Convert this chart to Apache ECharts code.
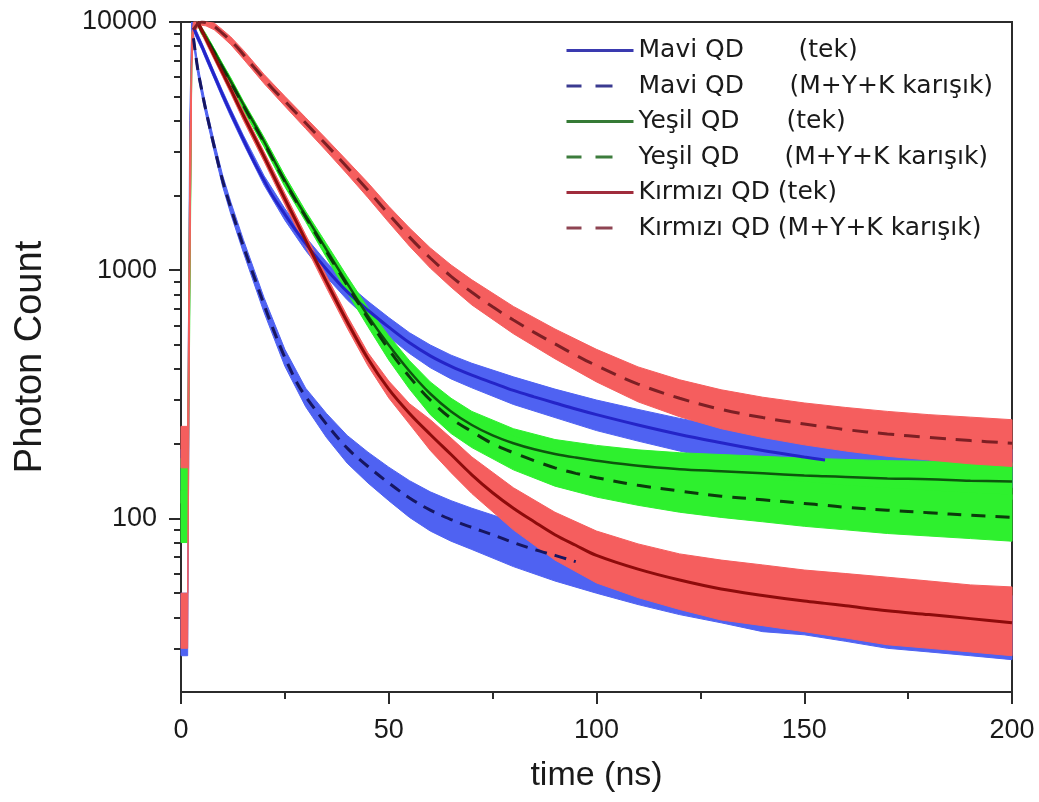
<!DOCTYPE html>
<html>
<head>
<meta charset="utf-8">
<script src="https://cdn.jsdelivr.net/npm/echarts@6/dist/echarts.min.js"></script>
<style>html,body{margin:0;padding:0;background:#fff}#c{width:1039px;height:802px}</style>
</head>
<body>
<div id="c"></div>
<script>
// ---------- axis ticks ----------
const xTickInterval = 50;
const yMajorTicks = [100, 1000, 10000];
const yMinorTicks = [30,40,50,60,70,80,90,200,300,400,500,600,700,800,900,2000,3000,4000,5000,6000,7000,8000,9000];

// ---------- series names ----------
const seriesNames = [
  'Mavi QD (tek)', 'Mavi QD (M+Y+K karışık)',
  'Yeşil QD (tek)', 'Yeşil QD (M+Y+K karışık)',
  'Kırmızı QD (tek)', 'Kırmızı QD (M+Y+K karışık)'
];

// ---------- fitted curves (time in ns) ----------
const tFit = [3,4,5,6,8,10,12,14,16,18,20,22,25,28,30,35,40,45,50,55,60,65,70,75,80,85,90,95,100,110,120,130,140,150,155,160,170,180,190,200];
const fitMaviTek = [9500,8700,8000,7300,6100,5100,4300,3650,3100,2650,2300,2000,1680,1420,1280,1010,820,690,590,510,452,410,378,352,328,309,292,276,262,238,218,202,188,177,172,null,null,null,null,null];
const fitMaviKarisik = [8600,6500,5300,4400,3150,2300,1780,1400,1120,900,725,590,445,350,310,240,192,162,139,121,108,99,92,86,80,75,71,67,null,null,null,null,null,null,null,null,null,null,null,null];
const fitYesilTek = [null,10000,9300,8700,7600,6600,5750,5000,4350,3800,3300,2850,2300,1880,1660,1210,885,655,500,392,318,270,238,216,201,190,182,176,171,163,158,155,152,149,148,147,145,144,142,141];
const fitYesilKarisik = [null,10000,9200,8650,7550,6550,5700,4950,4300,3750,3270,2820,2280,1860,1640,1190,870,640,480,372,300,253,224,200,184,171,160,152,146,136,129,123,119,115,113,111,108,105.5,103,101];
const fitKirmiziTek = [null,10000,9250,8550,7300,6250,5350,4550,3900,3350,2870,2450,1940,1540,1320,900,620,440,332,265,218,181,150,127,110,97,86,78,71,62.5,56.5,52,49,46.5,45.5,44.5,42.5,41,39.5,38];
const fitKirmiziKarisik = [9300,9800,10000,9950,9600,9000,8400,7750,7050,6450,5900,5400,4800,4250,3920,3200,2600,2100,1680,1360,1120,945,815,712,630,562,505,455,413,348,305,275,255,240,234,228,219,212,206,201];

// ---------- raw (noisy) data envelopes ----------
const tBand = [0,1.6,2.1,2.6,3,4,5,6,8,10,12,15,20,25,30,35,40,45,50,55,60,65,70,80,90,100,110,120,130,140,150,160,170,180,190,200];
const rawMaviTekHi = [190,190,4000,10000,9800,9000,8250,7550,6300,5280,4460,3500,2400,1770,1360,1080,885,750,645,560,500,455,422,372,332,300,275,253,236,222,210,202,197,194,192,190];
const rawMaviTekLo = [130,130,1200,8800,9200,8400,7750,7050,5900,4920,4140,3240,2200,1590,1200,940,760,635,540,462,405,365,336,288,255,226,205,187,172,160,150,143,140,137,135,133];
const rawMaviKarHi = [50,50,3000,10000,9000,6800,5550,4600,3300,2420,1880,1330,775,480,335,265,216,185,161,142,128,118,110,97,87,79,72,67,63,60,57,55,53,52,50,49];
const rawMaviKarLo = [28,28,900,8500,8200,6200,5050,4200,3000,2180,1680,1180,675,410,282,212,167,139,118,101,89,81,75,64,56,50,45,41,38,35,34,32,30,29,28,27];
const rawYesilTekHi = [175,175,2500,9000,9700,10000,9500,8950,7800,6800,5950,4800,3430,2400,1730,1280,945,705,545,432,355,305,270,230,208,197,189,184,181,178,175,173,171,170,169,168];
const rawYesilTekLo = [115,115,800,7000,9000,9700,8900,8450,7300,6400,5550,4450,3170,2200,1590,1140,830,610,458,355,285,238,208,174,156,146,139,134,131,128,126,124,122,121,120,119];
const rawYesilKarHi = [130,130,2000,8800,9600,10000,9450,8900,7800,6750,5900,4750,3400,2390,1710,1255,925,690,525,415,340,290,258,215,189,174,163,156,150,145,141,136,133,130,127,125];
const rawYesilKarLo = [80,80,600,6800,8900,9700,8900,8400,7300,6350,5500,4430,3140,2170,1570,1125,815,592,435,332,262,220,193,157,135,122,113,106,101,97,93,90,87,85,83,81];
const rawKirmiziTekHi = [50,50,3000,9000,10000,10000,9550,8850,7550,6480,5560,4380,3000,2040,1390,950,655,465,358,290,250,211,177,133,106,89,79,72,68,65,62,60,58,56,54,53];
const rawKirmiziTekLo = [30,30,900,7000,9500,9700,8950,8250,7050,6020,5140,4020,2740,1840,1250,850,585,412,306,240,188,153,126,90,68,55,48,43,39,37,35,33,31,30,29,28];
const rawKirmiziKarHi = [235,235,2500,8500,9600,10000,10000,10000,9900,9300,8700,7700,6150,5020,4120,3380,2760,2250,1810,1480,1230,1050,915,715,580,480,408,362,330,308,292,280,270,262,256,250];
const rawKirmiziKarLo = [160,160,900,6500,9000,9500,9700,9650,9300,8700,8100,7100,5650,4580,3720,3020,2440,1960,1560,1250,1020,855,725,555,440,355,295,257,230,212,198,187,178,172,166,162];

// ---------- styling ----------
const RAW_BLUE = '#4f62f2', RAW_GREEN = '#2ef02e', RAW_RED = '#f55e5e';

function bandSeries(id, hi, lo, color) {
  const data = tBand.map((t, i) => [t, lo[i], hi[i]]);
  return {
    type: 'custom', id: id, name: id, data: data, silent: true, z: 1,
    encode: { x: 0, y: [1, 2] },
    renderItem: function (params, api) {
      if (params.dataIndex !== 0) return null;
      const pts = [];
      for (let i = 0; i < data.length; i++) pts.push(api.coord([data[i][0], data[i][2]]));
      for (let i = data.length - 1; i >= 0; i--) pts.push(api.coord([data[i][0], data[i][1]]));
      return { type: 'polygon', shape: { points: pts }, style: { fill: color, stroke: color, lineWidth: 1 } };
    }
  };
}

function fitSeries(name, vals, color, width, dash) {
  const data = [];
  tFit.forEach((t, i) => { if (vals[i] !== null) data.push([t, vals[i]]); });
  return {
    type: 'line', name: name, data: data, z: 5,
    showSymbol: false, symbol: 'none', smooth: 0.35,
    lineStyle: { color: color, width: width, type: dash || 'solid' },
    itemStyle: { color: color },
    emphasis: { disabled: true }
  };
}

const legendLabels = {
  'Mavi QD (tek)': '{a|Mavi QD}(tek)',
  'Mavi QD (M+Y+K karışık)': '{b|Mavi QD}(M+Y+K karışık)',
  'Yeşil QD (tek)': '{c|Yeşil QD}(tek)',
  'Yeşil QD (M+Y+K karışık)': '{d|Yeşil QD}(M+Y+K karışık)',
  'Kırmızı QD (tek)': 'Kırmızı QD (tek)',
  'Kırmızı QD (M+Y+K karışık)': 'Kırmızı QD (M+Y+K karışık)'
};
const legendDash = [15, 14, 17, 40];
const legendColors = ['#3a3ab0', '#3a3a90', '#357a35', '#3c7c3c', '#a02c3c', '#8e4452'];

const chart = echarts.init(document.getElementById('c'), null, { renderer: 'canvas' });
const axisColor = '#2b2b2b';
const legendFont = { fontFamily: 'DejaVu Sans', fontSize: 25, color: '#1a1a1a' };

chart.setOption({
  animation: false,
  backgroundColor: '#ffffff',
  textStyle: { fontFamily: 'Liberation Sans' },
  grid: { left: 181, right: 27, top: 22, bottom: 110, show: true, borderColor: axisColor, borderWidth: 2, containLabel: false, outerBoundsMode: 'none' },
  legend: {
    data: seriesNames.map((n, i) => ({
      name: n,
      lineStyle: { color: legendColors[i], width: 3, type: (i % 2 === 1) ? legendDash : 'solid' },
      itemStyle: { color: legendColors[i], opacity: 0, borderWidth: 0 }
    })),
    orient: 'vertical', left: 565, top: 38, padding: 0,
    itemGap: 10.5, itemWidth: 67, itemHeight: 14,
    selectedMode: false,
    formatter: n => legendLabels[n],
    textStyle: Object.assign({}, legendFont, {
      rich: {
        a: Object.assign({ width: 160 }, legendFont),
        b: Object.assign({ width: 151 }, legendFont),
        c: Object.assign({ width: 148 }, legendFont),
        d: Object.assign({ width: 146 }, legendFont)
      }
    })
  },
  xAxis: {
    type: 'value', min: 0, max: 200, interval: xTickInterval,
    name: 'time (ns)', nameLocation: 'middle', nameGap: 67, nameMoveOverlap: false,
    nameTextStyle: { fontSize: 34, color: '#1a1a1a', fontFamily: 'Liberation Sans' },
    axisLine: { show: true, onZero: false, lineStyle: { color: axisColor, width: 2 } },
    axisTick: { show: true, inside: false, length: 12, lineStyle: { color: axisColor, width: 2 } },
    minorTick: { show: true, splitNumber: 2, length: 7, lineStyle: { color: axisColor, width: 2 } },
    axisLabel: { fontSize: 27, color: '#1a1a1a', margin: 25, fontFamily: 'Liberation Sans' },
    splitLine: { show: false }, minorSplitLine: { show: false }
  },
  yAxis: [{
    type: 'log', logBase: 10, min: 20, max: 10000, position: 'left', offset: 0,
    name: 'Photon Count', nameLocation: 'middle', nameGap: 131, nameMoveOverlap: false,
    nameTextStyle: { fontSize: 38, color: '#1a1a1a', fontFamily: 'Liberation Sans' },
    axisLine: { show: true, onZero: false, lineStyle: { color: axisColor, width: 2 } },
    axisTick: { show: true, inside: false, length: 12, customValues: yMajorTicks, lineStyle: { color: axisColor, width: 2 } },
    axisLabel: { fontSize: 27, color: '#1a1a1a', margin: 24, customValues: yMajorTicks, fontFamily: 'Liberation Sans', formatter: v => String(Math.round(v)) },
    splitLine: { show: false }
  }, {
    type: 'log', logBase: 10, min: 20, max: 10000, position: 'left', offset: 0, show: true,
    axisLine: { show: true, onZero: false, lineStyle: { color: axisColor, width: 2 } },
    axisTick: { show: true, inside: false, length: 7, customValues: yMinorTicks, lineStyle: { color: axisColor, width: 2 } },
    axisLabel: { show: false },
    splitLine: { show: false }
  }],
  series: [
    bandSeries('raw Mavi tek', rawMaviTekHi, rawMaviTekLo, RAW_BLUE),
    bandSeries('raw Mavi karisik', rawMaviKarHi, rawMaviKarLo, RAW_BLUE),
    bandSeries('raw Yesil tek', rawYesilTekHi, rawYesilTekLo, RAW_GREEN),
    bandSeries('raw Yesil karisik', rawYesilKarHi, rawYesilKarLo, RAW_GREEN),
    bandSeries('raw Kirmizi tek', rawKirmiziTekHi, rawKirmiziTekLo, RAW_RED),
    bandSeries('raw Kirmizi karisik', rawKirmiziKarHi, rawKirmiziKarLo, RAW_RED),
    fitSeries(seriesNames[0], fitMaviTek, '#2424c8', 3),
    fitSeries(seriesNames[1], fitMaviKarisik, '#161660', 3, [12, 8]),
    fitSeries(seriesNames[2], fitYesilTek, '#0d560d', 2.5),
    fitSeries(seriesNames[3], fitYesilKarisik, '#0b3a0b', 3, [14, 10]),
    fitSeries(seriesNames[4], fitKirmiziTek, '#8e0b0b', 3),
    fitSeries(seriesNames[5], fitKirmiziKarisik, '#7d1f24', 3, [16, 10])
  ]
});
</script>
</body>
</html>
